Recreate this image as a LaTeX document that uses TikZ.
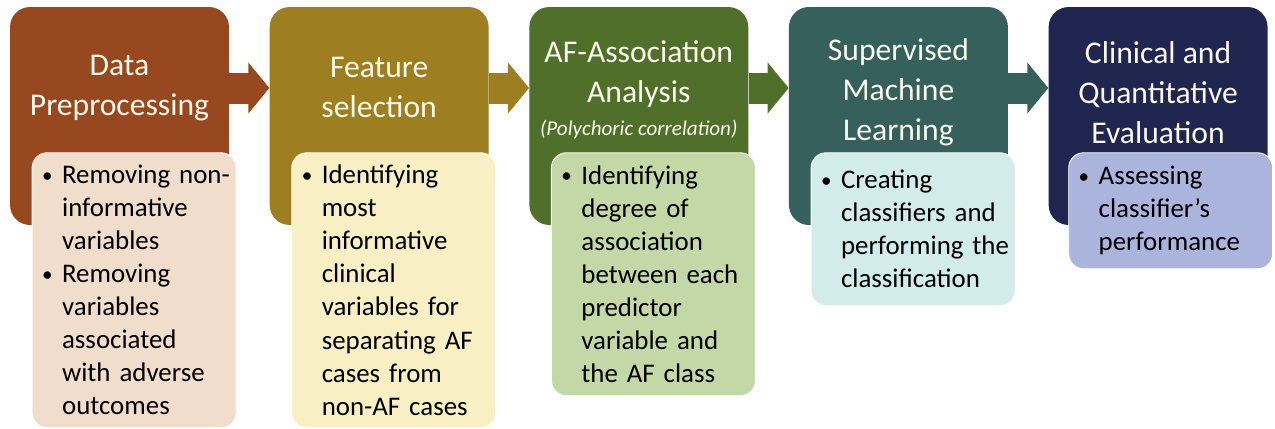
\documentclass[tikz,border=0pt]{standalone}
\usepackage{fontspec}
\setmainfont{Carlito}
\usetikzlibrary{positioning, arrows.meta}

\definecolor{c1}{RGB}{152,72,30}
\definecolor{c2}{RGB}{157,126,32}
\definecolor{c3}{RGB}{80,111,43}
\definecolor{c4}{RGB}{53,96,91}
\definecolor{c5}{RGB}{33,38,80}
\definecolor{l1}{RGB}{241,221,204}
\definecolor{l2}{RGB}{249,239,196}
\definecolor{l3}{RGB}{195,216,166}
\definecolor{l4}{RGB}{210,236,234}
\definecolor{l5}{RGB}{170,180,221}
\definecolor{titletext}{RGB}{250,247,235}

\tikzset{
  stage/.style={rounded corners=0.4cm, minimum width=4.38cm, minimum height=4.36cm, inner sep=0pt},
  title/.style={align=center, text=titletext, font=\fontsize{18}{22.8}\selectfont},
  detail/.style={anchor=north west, rounded corners=0.3cm, draw=white, line width=0.5pt,
    text width=3.96cm, inner xsep=0.06cm, align=left, font=\fontsize{15.3}{18.8}\selectfont},
  flow/.style={line width=0.62cm, -{Triangle[length=0.42cm,width=1cm]}}
}
\newcommand{\bul}{\hspace*{0.14cm}\makebox[0.40cm][l]{\raisebox{1pt}{\fontsize{12}{12}\selectfont\textbullet}}}
\newcommand{\ind}{\hspace*{0.54cm}}

\begin{document}
\begin{tikzpicture}[x=0.02cm, y=-0.02cm]
    \useasboundingbox (0,0) rectangle (1275,429);
    % stages
    \node[stage, fill=c1] (s1) at (119.5,116) {};
    \node[stage, fill=c2, right=0.8cm of s1] (s2) {};
    \node[stage, fill=c3, right=0.8cm of s2] (s3) {};
    \node[stage, fill=c4, right=0.8cm of s3] (s4) {};
    \node[stage, fill=c5, right=0.8cm of s4] (s5) {};
    \foreach\a/\b in {1/2,2/3,3/4,4/5}
        \draw[flow, c\a] ([yshift=0.56cm]s\a.east) -- ([yshift=0.56cm]s\b.west);

    % titles
    \node[title] (t1) at ([yshift=-1.62cm]s1.north) {Data\\Preprocessing};
    \node[title] (t2) at ([yshift=-1.62cm]s2.north) {Feature\\selection};
    \node[title] (t3) at ([yshift=-1.66cm]s3.north) {AF-Association\\Analysis\\[-4pt]{\fontsize{12}{14}\selectfont\itshape (Polychoric correlation)}};
    \node[title] (t4) at ([yshift=-1.72cm]s4.north) {Supervised\\Machine\\Learning};
    \node[title] (t5) at ([yshift=-1.72cm]s5.north) {Clinical and\\Quantitative\\Evaluation};

    % details
    \node[detail, fill=l1, minimum height=5.5cm] (d1) at ([shift={(22,-73)}]s1.south west)
        {\bul Removing non-\\\ind informative\\\ind variables\\\bul Removing\\\ind variables\\\ind associated\\\ind with adverse\\\ind outcomes};
    \node[detail, fill=l2, minimum height=5.5cm] (d2) at ([shift={(22,-73)}]s2.south west)
        {\bul Identifying\\\ind most\\\ind informative\\\ind clinical\\\ind variables for\\\ind separating AF\\\ind cases from\\\ind non-AF cases};
    \node[detail, fill=l3, minimum height=4.86cm] (d3) at ([shift={(22,-73)}]s3.south west)
        {\bul Identifying\\\ind degree of\\\ind association\\\ind between each\\\ind predictor\\\ind variable and\\\ind the AF class};
    \node[detail, fill=l4, minimum height=3.06cm] (d4) at ([shift={(22,-73)}]s4.south west)
        {\bul Creating\\\ind classifiers and\\\ind performing the\\\ind classification};
    \node[detail, fill=l5, minimum height=2.32cm] (d5) at ([shift={(20,-73)}]s5.south west)
        {\bul Assessing\\\ind classifier’s\\\ind performance};
\end{tikzpicture}
\end{document}
